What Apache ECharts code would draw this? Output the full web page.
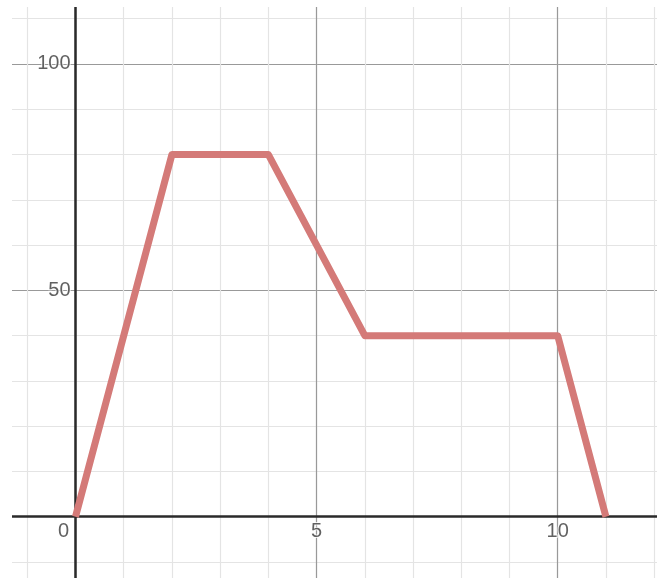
<!DOCTYPE html>
<html>
<head>
<meta charset="utf-8">
<script src="https://cdn.jsdelivr.net/npm/echarts@6/dist/echarts.min.js"></script>
<style>html,body{margin:0;padding:0;background:#fff}#c{width:657px;height:578px}</style>
</head>
<body>
<div id="c"></div>
<script>
var xValues = [0, 2, 4, 6, 10, 11];
var yValues = [0, 80, 80, 40, 40, 0];
var xMajorLabels = [0, 5, 10];
var yMajorLabels = [50, 100];

var chart = echarts.init(document.getElementById('c'));
var pts = xValues.map(function (x, i) { return [x, yValues[i]]; });
var font = 'Liberation Sans, Arial, sans-serif';
var labelStyle = { fontSize: 20, fontFamily: font, color: '#3a3a3a', textBorderColor: '#fff', textBorderWidth: 2 };

function lbl(extra) {
  var o = {};
  for (var k in labelStyle) o[k] = labelStyle[k];
  for (var k2 in extra) o[k2] = extra[k2];
  return o;
}

chart.setOption({
  animation: false,
  grid: { left: -165.6, top: -162.4, width: 964.4, height: 905.5, outerBoundsMode: 'none', containLabel: false },
  xAxis: [
    { type: 'value', min: -5, max: 15, interval: 1, position: 'bottom',
      axisLine: { show: false }, axisTick: { show: false }, axisLabel: { show: false },
      splitLine: { show: true, lineStyle: { color: '#e4e4e4', width: 1.2 } } },
    { type: 'value', min: -5, max: 15, interval: 5, position: 'bottom',
      axisLine: { show: true, onZero: true, lineStyle: { color: '#2a2a2a', width: 2.5 } },
      axisTick: { show: false }, axisLabel: { show: false },
      splitLine: { show: true, lineStyle: { color: '#999', width: 1.2 } } }
  ],
  yAxis: [
    { type: 'value', min: -50, max: 150, interval: 10, position: 'left',
      axisLine: { show: false }, axisTick: { show: false }, axisLabel: { show: false },
      splitLine: { show: true, lineStyle: { color: '#e4e4e4', width: 1.2 } } },
    { type: 'value', min: -50, max: 150, interval: 50, position: 'left',
      axisLine: { show: true, onZero: true, lineStyle: { color: '#2a2a2a', width: 2.5 } },
      axisTick: { show: false }, axisLabel: { show: false },
      splitLine: { show: true, lineStyle: { color: '#999', width: 1.2 } } }
  ],
  series: [
    {
      type: 'line', xAxisIndex: 1, yAxisIndex: 1, data: pts, showSymbol: false, symbol: 'none',
      lineStyle: { color: '#d47a78', width: 7, join: 'round', cap: 'butt' }, z: 5
    },
    {
      type: 'scatter', xAxisIndex: 1, yAxisIndex: 1, symbolSize: 0, silent: true, z: 10,
      data: xMajorLabels.map(function (v) {
        return { value: [v, 0], label: v === 0 ? { offset: [-12, 0] } : {} };
      }),
      label: lbl({ show: true, position: 'bottom', distance: 5, formatter: function (p) { return String(p.value[0]); } })
    },
    {
      type: 'scatter', xAxisIndex: 1, yAxisIndex: 1, symbolSize: 0, silent: true, z: 10,
      data: yMajorLabels.map(function (v) { return [0, v]; }),
      label: lbl({ show: true, position: 'left', distance: 5, formatter: function (p) { return String(p.value[1]); } })
    }
  ],
  graphic: [
    { type: 'rect', shape: { x: 0, y: 0, width: 12, height: 578 }, style: { fill: '#fff' }, z: 100 },
    { type: 'rect', shape: { x: 0, y: 0, width: 657, height: 7 }, style: { fill: '#fff' }, z: 100 }
  ]
});
</script>
</body>
</html>
